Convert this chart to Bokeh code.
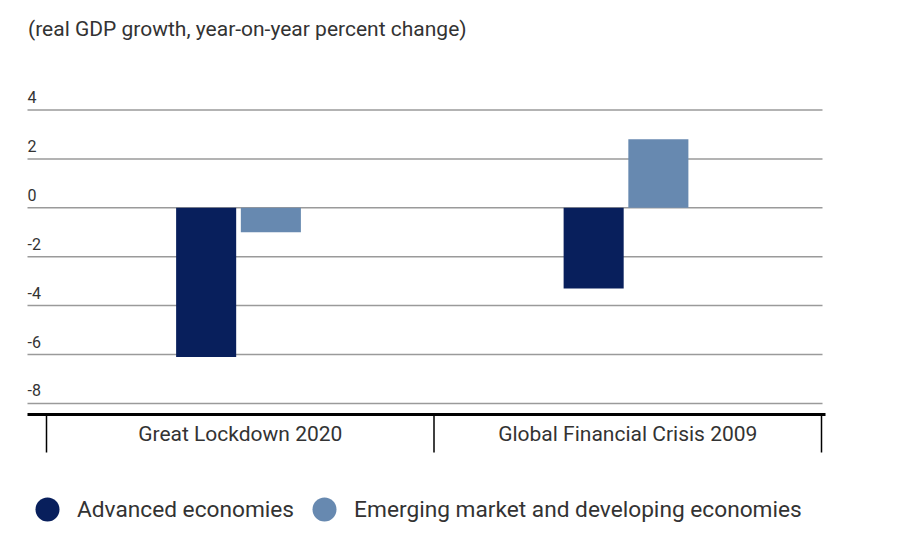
from bokeh.plotting import figure
from bokeh.models import Range1d, ColumnDataSource, Legend, LegendItem, Label
from bokeh.transform import dodge
from bokeh.core.properties import value
from bokeh.embed import file_html
from bokeh.resources import INLINE

categories = ["Great Lockdown 2020", "Global Financial Crisis 2009"]
advanced = [-6.1, -3.3]
emerging = [-1.0, 2.8]
y_ticks = [-8, -6, -4, -2, 0, 2, 4]
series_names = ["Advanced economies", "Emerging market and developing economies"]
colors = ["#081f5c", "#6789b0"]
title_text = "(real GDP growth, year-on-year percent change)"

FONT = "Roboto"
TEXT = "#333333"

# ---- layout (pixel geometry of the canvas) ----
W, H = 898, 550
Y0_PX, Y_PX = 207.3, 24.45     # canvas y of value 0, pixels per unit
X0_PX, X_PX = 46.0, 387.5      # canvas x of first category edge, pixels per category


def X(px):
    return (px - X0_PX) / X_PX


def Y(py):
    return (Y0_PX - py) / Y_PX


p = figure(width=W, height=H,
           x_range=Range1d(X(0), X(W)), y_range=Range1d(Y(H), Y(0)),
           output_backend="svg", toolbar_location=None,
           min_border=0)
p.outline_line_color = None
p.axis.visible = False
p.grid.visible = False
p.background_fill_color = "white"
p.border_fill_color = "white"

cat_pos = [i + 0.5 for i in range(len(categories))]
boundaries = list(range(len(categories) + 1))
src = ColumnDataSource(dict(x=cat_pos, adv=advanced, emd=emerging, cat=categories))

grid_x0, grid_x1 = X(27), X(822)
axis_y = Y(414)

# horizontal gridlines
gsrc = ColumnDataSource(dict(y=y_ticks, t=[str(v) for v in y_ticks]))
p.segment(x0=grid_x0, x1=grid_x1, y0="y", y1="y", source=gsrc,
          line_color="#9a9a9a", line_width=1.5)

# bars
bw = 0.155
p.vbar(x=dodge("x", -0.088), bottom=0, top="adv", width=bw, source=src,
       fill_color=colors[0], line_color=None)
p.vbar(x=dodge("x", 0.079), bottom=0, top="emd", width=bw, source=src,
       fill_color=colors[1], line_color=None)

# y tick labels, above gridlines, left aligned
p.text(x=grid_x0, y="y", text="t", source=gsrc, text_font=value(FONT),
       text_font_size="16px", text_color=TEXT, text_align="left",
       text_baseline="middle", y_offset=-13)

# category axis: thick baseline, boundary ticks, centred labels
p.segment(x0=X(27), x1=X(825), y0=axis_y, y1=axis_y,
          line_color="black", line_width=3)
bsrc = ColumnDataSource(dict(x=boundaries))
p.segment(x0="x", x1="x", y0=axis_y, y1=axis_y - 38 / Y_PX, source=bsrc,
          line_color="black", line_width=1.5)
p.text(x="x", y=axis_y, text="cat", source=src, text_font=value(FONT),
       text_font_size="21px", text_color=TEXT, text_align="center",
       text_baseline="middle", y_offset=19)

# title
p.add_layout(Label(x=X(27.5), y=Y(28), text=title_text,
                   text_font=FONT, text_font_size="21px", text_color=TEXT,
                   text_align="left", text_baseline="middle"))

# legend (markers of size 0 on the bar values: only their legend glyphs show)
r0 = p.scatter(x=dodge("x", -0.088), y="adv", source=src, marker="circle",
               size=0, fill_color=colors[0], line_color=None)
r1 = p.scatter(x=dodge("x", 0.079), y="emd", source=src, marker="circle",
               size=0, fill_color=colors[1], line_color=None)
legend = Legend(items=[LegendItem(label=series_names[0], renderers=[r0]),
                       LegendItem(label=series_names[1], renderers=[r1])],
                orientation="horizontal", location=(17, 11),
                glyph_width=60, glyph_height=60, label_standoff=0, spacing=-2,
                padding=0, margin=0, border_line_color=None,
                background_fill_alpha=0,
                label_text_font=FONT, label_text_font_size="22.7px",
                label_text_color=TEXT)
p.add_layout(legend, "center")

open("out.html", "w").write(file_html(p, INLINE))
